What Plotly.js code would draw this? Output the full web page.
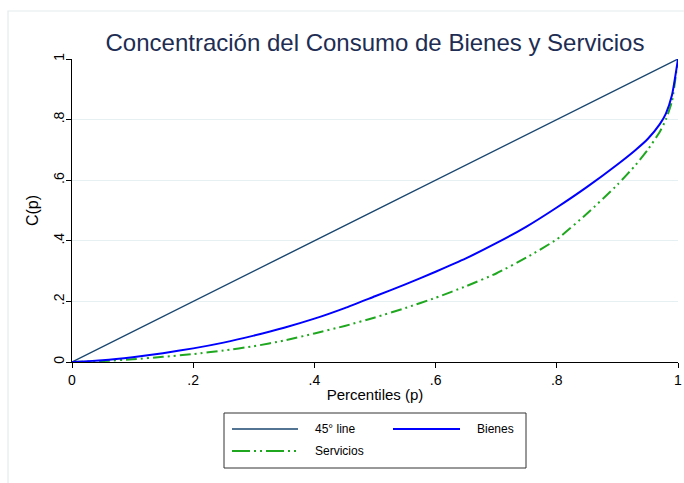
<!DOCTYPE html>
<html>
<head>
<meta charset="utf-8">
<script src="https://cdn.plot.ly/plotly-3.0.1.min.js"></script>
<style>
  html, body { margin: 0; padding: 0; background: #fff; }
  #chart { width: 684px; height: 483px; }
</style>
</head>
<body>
<div id="chart"></div>
<script>
// Percentiles (p)
const percentiles = [0, 0.05, 0.1, 0.15, 0.2, 0.25, 0.3, 0.35, 0.4, 0.45, 0.5, 0.55, 0.6, 0.65, 0.7, 0.75, 0.8, 0.85, 0.9, 0.93, 0.95, 0.97, 0.98, 0.99, 1];
// Concentration curve C(p) - Bienes
const bienes = [0, 0.006, 0.016, 0.029, 0.045, 0.064, 0.087, 0.113, 0.143, 0.178, 0.217, 0.256, 0.298, 0.342, 0.392, 0.447, 0.51, 0.578, 0.652, 0.7, 0.736, 0.785, 0.82, 0.88, 1];
// Concentration curve C(p) - Servicios
const servicios = [0, 0.003, 0.009, 0.017, 0.026, 0.038, 0.052, 0.071, 0.094, 0.119, 0.147, 0.178, 0.212, 0.25, 0.292, 0.345, 0.405, 0.49, 0.585, 0.65, 0.7, 0.76, 0.8, 0.86, 1];
// 45 degree line
const lineX = [0, 1];
const lineY = [0, 1];

const tickVals = [0, 0.2, 0.4, 0.6, 0.8, 1];
const tickText = ["0", ".2", ".4", ".6", ".8", "1"];

const legendLabels = ["45° line", "Bienes", "Servicios"];

const titleText = "Concentración del Consumo de Bienes y Servicios";
const xTitle = "Percentiles (p)";
const yTitle = "C(p)";

const C_45 = "#1a476f";
const C_B = "#0000ff";
const C_S = "#1fa81f";
const DASH_S = "11px,4px,2px,4px,2px,4px";

const FONT = "Liberation Sans, Arial, sans-serif";

// plot area geometry (px)
const W = 684, H = 483;
const L = 72, R = 6, T = 59, B = 121;
const PW = W - L - R, PH = H - T - B;
const px2x = v => (v - L) / PW;
const py2y = v => (H - B - v) / PH;

const traces = [
  { x: lineX, y: lineY, mode: "lines", name: legendLabels[0],
    line: { color: C_45, width: 1.4 }, hoverinfo: "skip" },
  { x: percentiles, y: servicios, mode: "lines", name: legendLabels[2],
    line: { color: C_S, width: 2, dash: DASH_S, shape: "spline", smoothing: 0.5 }, hoverinfo: "skip" },
  { x: percentiles, y: bienes, mode: "lines", name: legendLabels[1],
    line: { color: C_B, width: 2, shape: "spline", smoothing: 0.5 }, hoverinfo: "skip" }
];

// Manual legend (Stata-style)
const lgL = 224, lgR = 526, lgT = 413, lgB = 468;
const shapes = [
  // outer graph-region border
  { type: "rect", xref: "paper", yref: "paper",
    x0: px2x(8), x1: px2x(700), y0: py2y(11), y1: py2y(500),
    line: { color: "#e3ecec", width: 1.2 }, layer: "below" },
  // legend box
  { type: "rect", xref: "paper", yref: "paper",
    x0: px2x(lgL), x1: px2x(lgR), y0: py2y(lgT), y1: py2y(lgB),
    line: { color: "#333333", width: 1 } },
  { type: "line", xref: "paper", yref: "paper",
    x0: px2x(232), x1: px2x(298), y0: py2y(429), y1: py2y(429),
    line: { color: C_45, width: 1.4 } },
  { type: "line", xref: "paper", yref: "paper",
    x0: px2x(393), x1: px2x(460), y0: py2y(429), y1: py2y(429),
    line: { color: C_B, width: 2 } },
  { type: "line", xref: "paper", yref: "paper",
    x0: px2x(232), x1: px2x(298), y0: py2y(451), y1: py2y(451),
    line: { color: C_S, width: 2, dash: "18px,4px,2px,4px,2px,4px" } }
];
const annotations = [
  { text: legendLabels[0], xref: "paper", yref: "paper", x: px2x(313), y: py2y(429),
    xanchor: "left", yanchor: "middle", showarrow: false, font: { family: FONT, size: 12, color: "#000" } },
  { text: legendLabels[1], xref: "paper", yref: "paper", x: px2x(516), y: py2y(429),
    xanchor: "right", yanchor: "middle", showarrow: false, font: { family: FONT, size: 12, color: "#000" } },
  { text: legendLabels[2], xref: "paper", yref: "paper", x: px2x(313), y: py2y(451),
    xanchor: "left", yanchor: "middle", showarrow: false, font: { family: FONT, size: 12, color: "#000" } }
];

const axisCommon = {
  range: [0, 1],
  tickmode: "array",
  tickvals: tickVals,
  ticktext: tickText,
  ticks: "outside",
  ticklen: 5,
  tickwidth: 1,
  tickcolor: "#000",
  showline: true,
  linecolor: "#000",
  linewidth: 1,
  zeroline: false,
  tickfont: { family: FONT, size: 14, color: "#000" },
  fixedrange: true
};

const layout = {
  width: W, height: H,
  margin: { l: L, r: R, t: T, b: B, pad: 0 },
  paper_bgcolor: "#ffffff",
  plot_bgcolor: "#ffffff",
  showlegend: false,
  title: {
    text: titleText,
    font: { family: FONT, size: 24, color: "#1e2d53" },
    xref: "paper", x: 0.5, xanchor: "center",
    yref: "container", y: 1 - 43 / H, yanchor: "middle"
  },
  xaxis: Object.assign({}, axisCommon, {
    showgrid: false,
    title: { text: xTitle, font: { family: FONT, size: 15, color: "#000" }, standoff: 2 }
  }),
  yaxis: Object.assign({}, axisCommon, {
    showgrid: true,
    gridcolor: "#e6eff1",
    gridwidth: 1,
    tickangle: -90,
    ticklabelstandoff: -4,
    title: { text: yTitle, font: { family: FONT, size: 16, color: "#000" }, standoff: 8 }
  }),
  shapes: shapes,
  annotations: annotations
};

Plotly.newPlot("chart", traces, layout, { displayModeBar: false, staticPlot: true });
</script>
</body>
</html>
